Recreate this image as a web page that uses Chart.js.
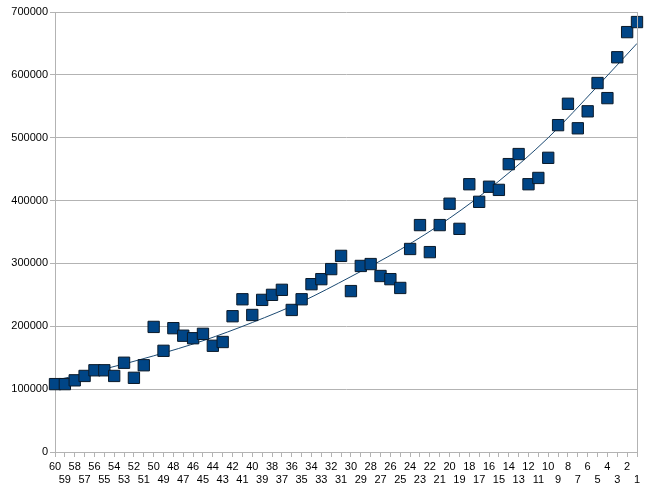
<!DOCTYPE html>
<html>
<head>
<meta charset="utf-8">
<script src="https://cdn.jsdelivr.net/npm/chart.js@4.4.0/dist/chart.umd.min.js"></script>
<style>
  html, body { margin: 0; padding: 0; background: #fff; }
  #wrap { width: 646px; height: 494px; }
</style>
</head>
<body>
<div id="wrap"><canvas id="myChart"></canvas></div>
<script>
// categories run from 60 down to 1
const categories = [60,59,58,57,56,55,54,53,52,51,50,49,48,47,46,45,44,43,42,41,
                    40,39,38,37,36,35,34,33,32,31,30,29,28,27,26,25,24,23,22,21,
                    20,19,18,17,16,15,14,13,12,11,10,9,8,7,6,5,4,3,2,1]

const values = [108000,108000,114000,121000,130000,130000,121000,142000,118000,138000,
                199000,161000,197000,185000,181000,188000,169000,175000,216000,243000,
                218000,242000,250000,258000,226000,243000,267000,275000,291000,312000,
                256000,296000,299000,280000,275000,261000,323000,361000,318000,361000,
                395000,355000,426000,398000,422000,417000,458000,474000,426000,436000,
                468000,520000,554000,515000,542000,587000,563000,628000,668000,684000]

// trend line every 5th category
const trend = [114000,null,null,null,null,132000,null,null,null,null,
               153000,null,null,null,null,177000,null,null,null,null,
               206000,null,null,null,null,239000,null,null,null,null,
               279000,null,null,null,null,322000,null,null,null,null,
               372000,null,null,null,null,431000,null,null,null,null,
               500000,null,null,null,null,582000,null,null,null,650000]

const yTicks = [0,100000,200000,300000,400000,500000,600000,700000]

// two label rows: even numbers on top, odd numbers below
const xLabels = categories.map((c, i) => i % 2 === 0 ? [String(c), ''] : ['', String(c)])

let g

window.addEventListener('DOMContentLoaded', () => {
    createGraph()
})

function createGraph(){
    const gridColor = '#b3b3b3'
    const font = { family: 'Liberation Sans', size: 11, lineHeight: 1.18 }

    g = new Chart(document.getElementById('myChart').getContext('2d'), {
        type: 'line',
        data: {
            labels: xLabels,
            datasets: [
                {
                    data: values,
                    showLine: false,
                    pointStyle: 'rect',
                    radius: 8,
                    hoverRadius: 8,
                    backgroundColor: '#004586',
                    borderColor: '#0a1a2a',
                    borderWidth: 1,
                    clip: false,
                    order: 1
                },
                {
                    data: trend,
                    spanGaps: true,
                    cubicInterpolationMode: 'monotone',
                    borderColor: '#1c4a72',
                    borderWidth: 1,
                    radius: 0,
                    fill: false,
                    order: 2
                }
            ]
        },
        options: {
            responsive: true,
            maintainAspectRatio: false,
            animation: false,
            events: [],
            layout: { padding: { top: 12, right: 8, left: 0, bottom: 0 } },
            plugins: {
                legend: { display: false },
                tooltip: { enabled: false }
            },
            scales: {
                x: {
                    offset: false,
                    border: { color: gridColor },
                    grid: {
                        drawOnChartArea: false,
                        drawTicks: true,
                        tickLength: 5,
                        color: gridColor
                    },
                    ticks: {
                        autoSkip: false,
                        maxRotation: 0,
                        minRotation: 0,
                        padding: 3,
                        color: '#000',
                        font: font
                    },
                    afterFit: s => { s.height = 42 }
                },
                y: {
                    min: 0,
                    max: 700000,
                    border: { color: gridColor },
                    grid: {
                        color: gridColor,
                        tickLength: 5
                    },
                    afterBuildTicks: s => { s.ticks = yTicks.map(v => ({ value: v })) },
                    ticks: {
                        padding: 2,
                        color: '#000',
                        font: font,
                        callback: v => String(v)
                    },
                    afterFit: s => { s.width = 55 }
                }
            }
        },
        plugins: [{
            // right-hand border of the plot area
            id: 'rightBorder',
            afterDraw(chart){
                const a = chart.chartArea
                const ctx = chart.ctx
                ctx.save()
                ctx.strokeStyle = gridColor
                ctx.lineWidth = 1
                ctx.beginPath()
                ctx.moveTo(Math.round(a.right) + 0.5, a.top)
                ctx.lineTo(Math.round(a.right) + 0.5, a.bottom)
                ctx.stroke()
                ctx.restore()
            }
        }]
    })
}
</script>
</body>
</html>
